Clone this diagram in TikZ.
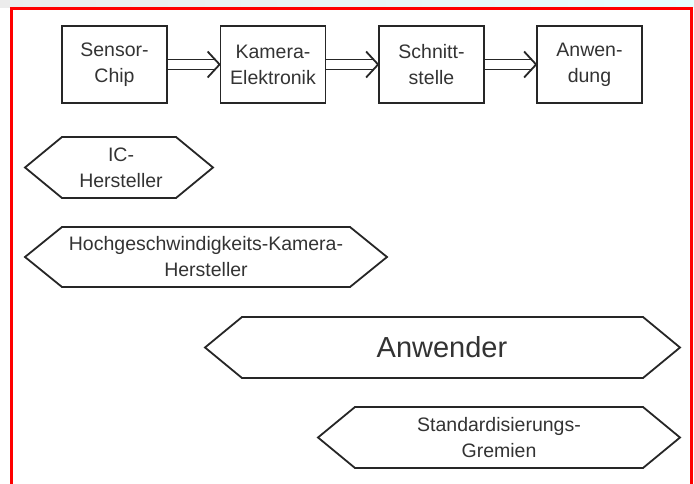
\documentclass[tikz,border=0pt]{standalone}
\usepackage{fontspec}
\setmainfont{Liberation Sans}

\tikzset{
  block/.style={draw=black!85, line width=1.8pt, minimum width=105pt, minimum height=77pt,
    inner sep=0pt, align=center, font=\fontsize{19.5}{26}\selectfont, text=black!80},
  flow/.style={draw=black!85, line width=1.8pt, double, double distance=8.2pt, shorten >=4pt},
  flowhead/.style={draw=black!85, line width=1.8pt, line join=miter},
  hexa/.style={draw=black!85, line width=1.8pt, line join=miter},
  hextext/.style={align=center, font=\fontsize{19.5}{26}\selectfont, text=black!80},
}

\begin{document}
\begin{tikzpicture}[x=1pt, y=-1pt]
      \useasboundingbox (0,0) rectangle (694,484);

      % hintergrund oben
      \shade[left color=gray!15, right color=cyan!10] (0,0) rectangle (694,8);

      % roter rahmen
      \draw[red, line width=3pt] (11,484) -- (11,9) -- (691,9) -- (691,484);

      % kette der komponenten
      \node[block] (sensor)    at (114.5,64.5) {Sensor-\\Chip};
      \node[block] (kamera)    at (273,64.5)   {Kamera-\\Elektronik};
      \node[block] (schnitt)   at (431.5,64.5) {Schnitt-\\stelle};
      \node[block] (anwendung) at (589.5,64.5) {Anwen-\\dung};

      % doppelpfeile
      \draw[flow] (sensor) -- (kamera);
      \draw[flowhead] ([xshift=-12pt,yshift=13pt]kamera.west) -- (kamera.west) -- ([xshift=-12pt,yshift=-13pt]kamera.west);
      \draw[flow] (kamera) -- (schnitt);
      \draw[flowhead] ([xshift=-12pt,yshift=13pt]schnitt.west) -- (schnitt.west) -- ([xshift=-12pt,yshift=-13pt]schnitt.west);
      \draw[flow] (schnitt) -- (anwendung);
      \draw[flowhead] ([xshift=-12pt,yshift=13pt]anwendung.west) -- (anwendung.west) -- ([xshift=-12pt,yshift=-13pt]anwendung.west);

      % beteiligte
      \draw[hexa] (25,167.5) -- (62,137) -- (176,137) -- (213,167.5) -- (176,198) -- (62,198) -- cycle;
      \node[hextext] (ic) at (121,167.5) {IC-\\Hersteller};

      \draw[hexa] (25,257) -- (62,227) -- (350,227) -- (387,257) -- (350,287) -- (62,287) -- cycle;
      \node[hextext] (hgk) at (206,257) {Hochgeschwindigkeits-Kamera-\\Hersteller};

      \draw[hexa] (205,347.5) -- (242,317) -- (643,317) -- (680,347.5) -- (643,378) -- (242,378) -- cycle;
      \node[hextext, font=\fontsize{29}{34}\selectfont] (anwender) at (442,347.5) {Anwender};

      \draw[hexa] (318,437.5) -- (355,407) -- (643,407) -- (680,437.5) -- (643,468) -- (355,468) -- cycle;
      \node[hextext] (gremien) at (499,437.5) {Standardisierungs-\\Gremien};
\end{tikzpicture}
\end{document}
